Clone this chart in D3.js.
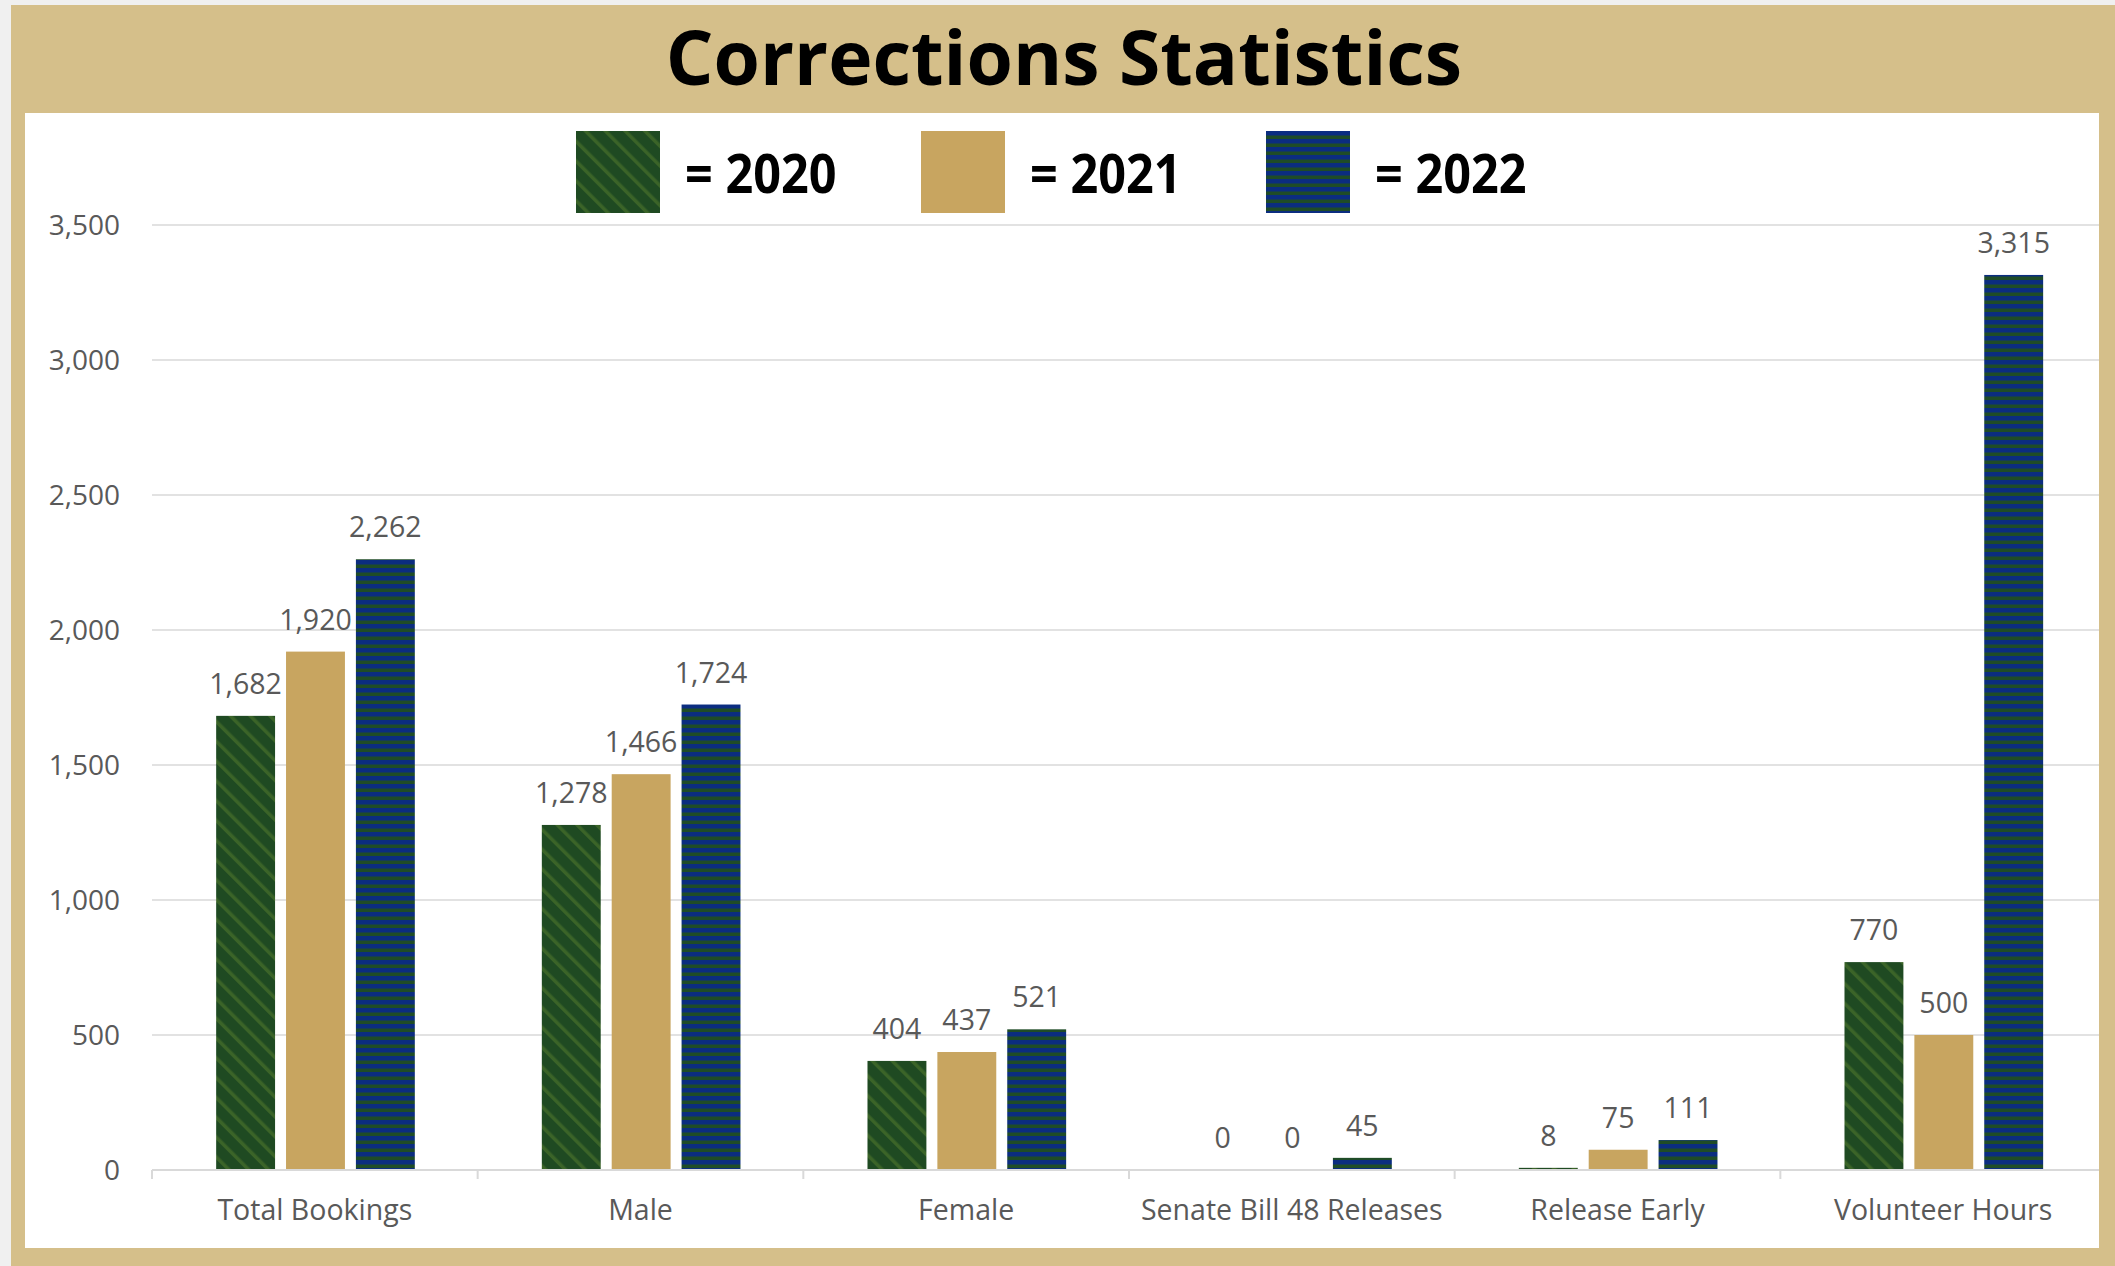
<!DOCTYPE html>
<html>
<head>
<meta charset="utf-8">
<script src="https://d3js.org/d3.v7.min.js"></script>
<style>
  html, body { margin: 0; padding: 0; background: #f0f0f0; }
  svg { display: block; }
</style>
</head>
<body>
<svg width="2115" height="1266"></svg>
<script>
// The data
var categories = ["Total Bookings", "Male", "Female", "Senate Bill 48 Releases", "Release Early", "Volunteer Hours"];
var years = ["2020", "2021", "2022"];
var values2020 = [1682, 1278, 404, 0, 8, 770];
var values2021 = [1920, 1466, 437, 0, 75, 500];
var values2022 = [2262, 1724, 521, 45, 111, 3315];
var yTicks = [0, 500, 1000, 1500, 2000, 2500, 3000, 3500];

var svg = d3.select("svg"),
    width = +svg.attr("width"),
    height = +svg.attr("height");

var gold = "#d5bf8a";
var textGray = "#595959";
var gridGray = "#d9d9d9";

// frame + white panel
svg.append("rect").attr("x", 11).attr("y", 5).attr("width", width - 11).attr("height", height - 5).attr("fill", gold);
svg.append("rect").attr("x", 25).attr("y", 113).attr("width", 2074).attr("height", 1135).attr("fill", "#fff");

svg.append("text")
    .attr("x", 1064)
    .attr("y", 85)
    .attr("text-anchor", "middle")
    .attr("font-family", "'Open Sans'")
    .attr("font-weight", "bold")
    .attr("font-size", 75)
    .attr("fill", "#000")
    .text("Corrections Statistics");

// patterns
var defs = svg.append("defs");
var p1 = defs.append("pattern").attr("id", "pat2020")
    .attr("patternUnits", "userSpaceOnUse")
    .attr("width", 14).attr("height", 14)
    .attr("patternTransform", "rotate(-45)");
p1.append("rect").attr("width", 14).attr("height", 14).attr("fill", "#1f4a22");
p1.append("rect").attr("x", 5).attr("width", 3.5).attr("height", 14).attr("fill", "#3b6428");

var p3 = defs.append("pattern").attr("id", "pat2022")
    .attr("patternUnits", "userSpaceOnUse")
    .attr("width", 8).attr("height", 8);
p3.append("rect").attr("width", 8).attr("height", 8).attr("fill", "#1f4c27");
p3.append("rect").attr("width", 8).attr("height", 4.5).attr("fill", "#0b2d80");

var fills = { "2020": "url(#pat2020)", "2021": "#c8a560", "2022": "url(#pat2022)" };

// scales
var x0 = d3.scaleBand().domain(categories).range([152, 2106]).padding(0);
var x1 = d3.scaleBand().domain(years)
    .range([x0.bandwidth() * 0.197, x0.bandwidth() * 0.807])
    .paddingInner(0.157).paddingOuter(0);
var y = d3.scaleLinear().domain([0, 3500]).range([1170, 225]);

// gridlines + y labels
svg.append("g").selectAll("line")
    .data(yTicks.slice(1))
    .enter().append("line")
    .attr("x1", 152).attr("x2", 2099)
    .attr("y1", d => y(d)).attr("y2", d => y(d))
    .attr("stroke", gridGray).attr("stroke-width", 1.5);

svg.append("g").selectAll("text")
    .data(yTicks)
    .enter().append("text")
    .attr("x", 120)
    .attr("y", d => y(d))
    .attr("dy", "0.36em")
    .attr("text-anchor", "end")
    .attr("font-family", "'Open Sans'")
    .attr("font-size", 28)
    .attr("fill", textGray)
    .text(d => d3.format(",")(d));

// bars
var series = [values2020, values2021, values2022];
var rows = [];
categories.forEach((c, i) => {
    years.forEach((yr, j) => {
        rows.push({ cat: c, year: yr, value: series[j][i] });
    });
});

var bars = svg.append("g").attr("class", "bars");
bars.selectAll("rect")
    .data(rows)
    .enter().append("rect")
    .attr("x", d => x0(d.cat) + x1(d.year))
    .attr("y", d => y(d.value))
    .attr("width", x1.bandwidth())
    .attr("height", d => y(0) - y(d.value))
    .attr("fill", d => fills[d.year]);

bars.selectAll("text")
    .data(rows)
    .enter().append("text")
    .attr("x", d => x0(d.cat) + x1(d.year) + x1.bandwidth() / 2)
    .attr("y", d => y(d.value) - 22)
    .attr("text-anchor", "middle")
    .attr("font-family", "'Open Sans'")
    .attr("font-size", 28.5)
    .attr("fill", textGray)
    .text(d => d3.format(",")(d.value));

// x axis
var xAxis = d3.axisBottom(x0).tickSize(0).tickPadding(30);
var gx = svg.append("g")
    .attr("transform", "translate(0," + y(0) + ")")
    .call(xAxis);
gx.select(".domain").remove();
gx.selectAll("text")
    .attr("font-family", "'Open Sans'")
    .attr("font-size", 28.5)
    .attr("fill", textGray);
gx.append("line").attr("x1", 152).attr("x2", 2099).attr("stroke", gridGray).attr("stroke-width", 2);
gx.selectAll("line.sep")
    .data(categories)
    .enter().append("line")
    .attr("class", "sep")
    .attr("x1", d => x0(d)).attr("x2", d => x0(d))
    .attr("y1", 0).attr("y2", 9)
    .attr("stroke", gridGray).attr("stroke-width", 2);

// legend
var legend = svg.append("g").selectAll("g")
    .data(years)
    .enter().append("g")
    .attr("transform", (d, i) => "translate(" + (576 + i * 345) + ",131)");
legend.append("rect")
    .attr("width", 84).attr("height", 82)
    .attr("fill", d => fills[d]);
legend.append("text")
    .attr("transform", "translate(109,62) scale(0.9,1)")
    .attr("font-family", "'Open Sans'")
    .attr("font-weight", "bold")
    .attr("font-size", 54)
    .attr("fill", "#000")
    .text(d => "= " + d);
</script>
</body>
</html>
